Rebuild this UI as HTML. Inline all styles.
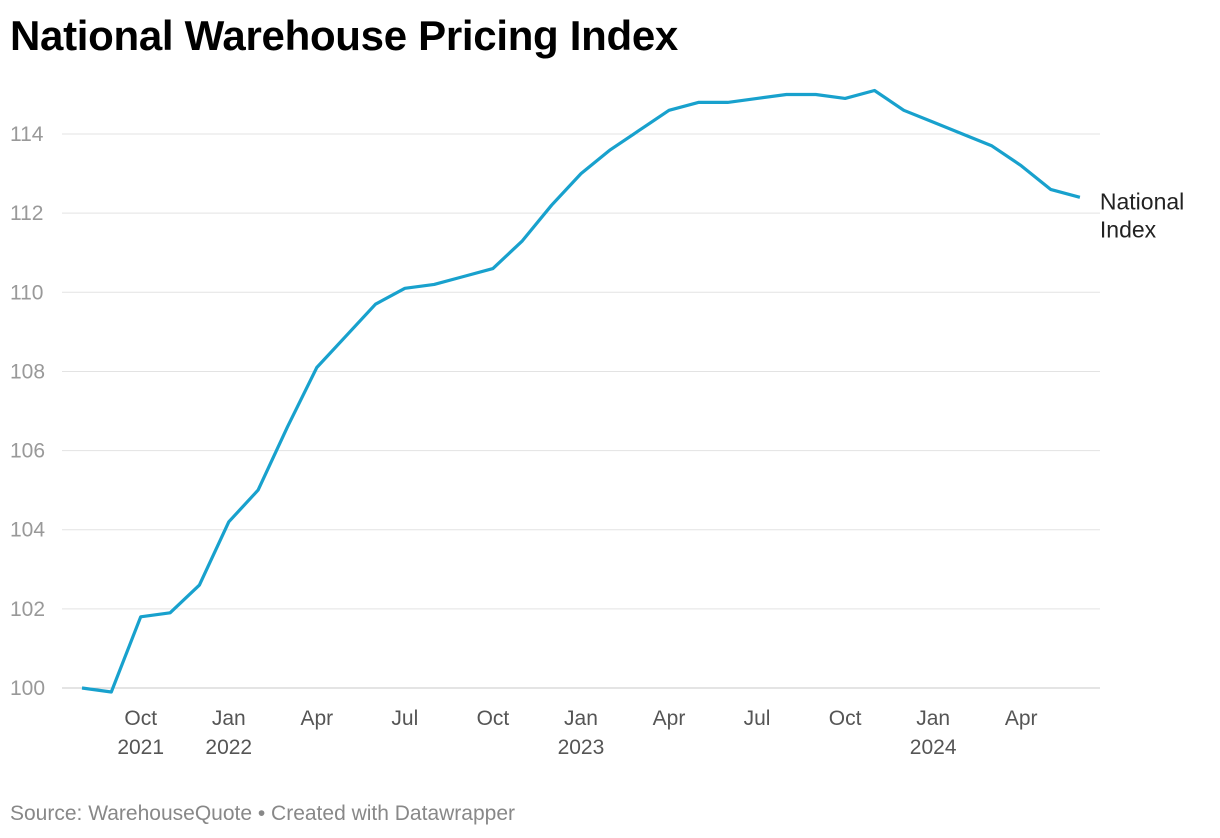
<!DOCTYPE html>
<html><head><meta charset="utf-8"><style>
body{margin:0;background:#fff;font-family:"Liberation Sans",sans-serif;}
#wrap{position:relative;width:1220px;height:838px;overflow:hidden;}
h1{position:absolute;left:10px;top:12px;margin:0;font-size:42px;font-weight:bold;color:#000;letter-spacing:-0.3px;}
#src{position:absolute;left:10px;top:802px;font-size:21px;color:#888;}
</style></head><body>
<div id="wrap">
<h1>National Warehouse Pricing Index</h1>
<svg id="chart" width="1220" height="838" style="position:absolute;left:0;top:0"></svg>
<div id="src">Source: WarehouseQuote • Created with Datawrapper</div>
</div>
<script>
const values=[100.0,99.9,101.8,101.9,102.6,104.2,105.0,106.6,108.1,108.9,109.7,110.1,110.2,110.4,110.6,111.3,112.2,113.0,113.6,114.1,114.6,114.8,114.8,114.9,115.0,115.0,114.9,115.1,114.6,114.3,114.0,113.7,113.2,112.6,112.4];
const yTicks=[100,102,104,106,108,110,112,114];
const xTickIdx=[2,5,8,11,14,17,20,23,26,29,32];
const xTickLabels=["Oct","Jan","Apr","Jul","Oct","Jan","Apr","Jul","Oct","Jan","Apr"];
const xTickYears=["2021","2022","","","","2023","","","","2024",""];
const seriesLabel=["National","Index"];

const NS="http://www.w3.org/2000/svg";
const svg=document.getElementById('chart');
const x0=82,dx=29.35,yBase=688,ppu=39.57;
const X=i=>x0+i*dx;
const Y=v=>yBase-(v-100)*ppu;
function mk(t,a){const e=document.createElementNS(NS,t);for(const k in a)e.setAttribute(k,a[k]);svg.appendChild(e);return e;}
yTicks.forEach(v=>{
  const g=mk('line',{x1:62,x2:1100,y1:Y(v),y2:Y(v),stroke:v===100?'#c8c8c8':'#e3e3e3','stroke-width':1});
  
  
  const t=mk('text',{x:10,y:Y(v)+7,'font-size':21,fill:'#999','font-family':'Liberation Sans, sans-serif'});
  t.textContent=v;
  
  
});
xTickIdx.forEach((i,k)=>{
  const t=mk('text',{x:X(i),y:725,'font-size':21,fill:'#555','text-anchor':'middle','font-family':'Liberation Sans, sans-serif'});
  t.textContent=xTickLabels[k];
  
  
  if(xTickYears[k]){
    const t2=mk('text',{x:X(i),y:754,'font-size':21,fill:'#555','text-anchor':'middle','font-family':'Liberation Sans, sans-serif'});
    t2.textContent=xTickYears[k];
    
    
  }
});
const p=mk('path',{d:values.map((v,i)=>(i?'L':'M')+X(i).toFixed(1)+','+Y(v).toFixed(1)).join(''),fill:'none',stroke:'#18a1cd','stroke-width':3.2,'stroke-linejoin':'round'});


const last=values.length-1;
seriesLabel.forEach((s,k)=>{
  const t=mk('text',{x:X(last)+20,y:Y(values[last])+12+k*28,'font-size':23,fill:'#222','font-family':'Liberation Sans, sans-serif'});
  t.textContent=s;
  
  
});
</script>
</body></html>
